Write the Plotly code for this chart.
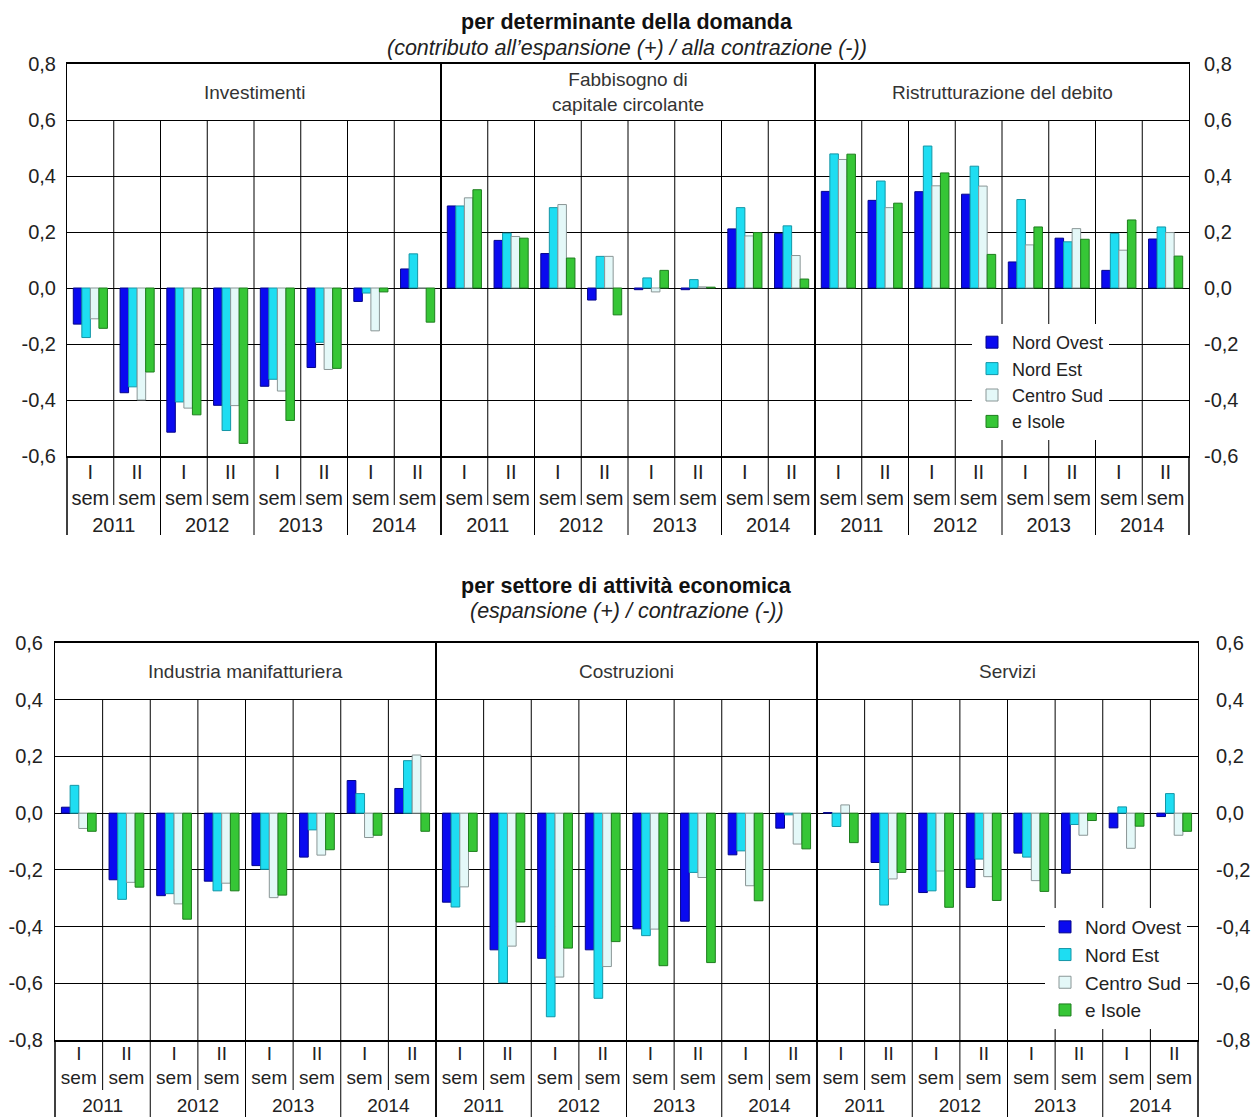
import plotly.graph_objects as go

# ---------------- data ----------------
years = ["2011", "2012", "2013", "2014"]
semesters = ["I<br>sem", "II<br>sem"]
regions = ["Nord Ovest", "Nord Est", "Centro Sud", "e Isole"]

top_title = "per determinante della domanda"
top_subtitle = "(contributo all’espansione (+) / alla contrazione (-))"
bottom_title = "per settore di attività economica"
bottom_subtitle = "(espansione (+) / contrazione (-))"

top_sections = ["Investimenti", "Fabbisogno di<br>capitale circolante", "Ristrutturazione del debito"]
bottom_sections = ["Industria manifatturiera", "Costruzioni", "Servizi"]

top_ytick_vals = [-0.6, -0.4, -0.2, 0.0, 0.2, 0.4, 0.6, 0.8]
top_ytick_text = ["-0,6", "-0,4", "-0,2", "0,0", "0,2", "0,4", "0,6", "0,8"]
bottom_ytick_vals = [-0.8, -0.6, -0.4, -0.2, 0.0, 0.2, 0.4, 0.6]
bottom_ytick_text = ["-0,8", "-0,6", "-0,4", "-0,2", "0,0", "0,2", "0,4", "0,6"]

# Investimenti
inv_nord_ovest = [-0.129, -0.374, -0.515, -0.419, -0.351, -0.284, -0.048, 0.068]
inv_nord_est = [-0.177, -0.353, -0.407, -0.509, -0.326, -0.194, -0.018, 0.122]
inv_centro_sud = [-0.110, -0.400, -0.429, -0.420, -0.368, -0.291, -0.153, 0.000]
inv_isole = [-0.144, -0.300, -0.453, -0.555, -0.473, -0.287, -0.014, -0.122]

# Fabbisogno di capitale circolante
fab_nord_ovest = [0.293, 0.170, 0.123, -0.043, -0.006, -0.006, 0.211, 0.195]
fab_nord_est = [0.293, 0.196, 0.287, 0.113, 0.036, 0.030, 0.287, 0.222]
fab_centro_sud = [0.322, 0.184, 0.298, 0.113, -0.014, 0.004, 0.186, 0.116]
fab_isole = [0.351, 0.178, 0.107, -0.096, 0.063, 0.003, 0.198, 0.032]

# Ristrutturazione del debito
ris_nord_ovest = [0.345, 0.313, 0.344, 0.335, 0.093, 0.178, 0.063, 0.175]
ris_nord_est = [0.479, 0.382, 0.507, 0.435, 0.316, 0.165, 0.195, 0.218]
ris_centro_sud = [0.459, 0.287, 0.365, 0.364, 0.154, 0.212, 0.135, 0.198]
ris_isole = [0.478, 0.303, 0.411, 0.120, 0.218, 0.174, 0.243, 0.114]

# Industria manifatturiera
ind_nord_ovest = [0.021, -0.235, -0.291, -0.240, -0.185, -0.155, 0.115, 0.087]
ind_nord_est = [0.098, -0.304, -0.284, -0.274, -0.198, -0.059, 0.069, 0.185]
ind_centro_sud = [-0.054, -0.244, -0.320, -0.247, -0.298, -0.148, -0.086, 0.205]
ind_isole = [-0.064, -0.261, -0.374, -0.274, -0.289, -0.129, -0.078, -0.064]

# Costruzioni
cos_nord_ovest = [-0.314, -0.482, -0.512, -0.482, -0.408, -0.381, -0.147, -0.053]
cos_nord_est = [-0.331, -0.598, -0.718, -0.653, -0.432, -0.209, -0.133, -0.006]
cos_centro_sud = [-0.260, -0.469, -0.578, -0.541, -0.409, -0.227, -0.256, -0.109]
cos_isole = [-0.135, -0.384, -0.476, -0.453, -0.538, -0.527, -0.309, -0.126]

# Servizi
ser_nord_ovest = [0.002, -0.174, -0.280, -0.262, -0.141, -0.212, -0.052, -0.012]
ser_nord_est = [-0.047, -0.324, -0.274, -0.162, -0.155, -0.040, 0.022, 0.069]
ser_centro_sud = [0.029, -0.232, -0.204, -0.224, -0.238, -0.078, -0.124, -0.078]
ser_isole = [-0.104, -0.209, -0.332, -0.308, -0.276, -0.026, -0.046, -0.064]

top_values = [
    [inv_nord_ovest, inv_nord_est, inv_centro_sud, inv_isole],
    [fab_nord_ovest, fab_nord_est, fab_centro_sud, fab_isole],
    [ris_nord_ovest, ris_nord_est, ris_centro_sud, ris_isole],
]
bottom_values = [
    [ind_nord_ovest, ind_nord_est, ind_centro_sud, ind_isole],
    [cos_nord_ovest, cos_nord_est, cos_centro_sud, cos_isole],
    [ser_nord_ovest, ser_nord_est, ser_centro_sud, ser_isole],
]

# ---------------- styling ----------------
W, H = 1253, 1117
FONT = "Liberation Sans, Arial, sans-serif"
TXT = "#222222"
fill_colors = ["#0A0AF0", "#1EDDF2", "#E4F8F8", "#36C636"]
edge_colors = ["#05058A", "#1496A6", "#8A9696", "#1E7E1E"]
YTICK_SIZE = 20


def px_x(p):
    return p / W


def px_y(p):
    return 1 - p / H


# panel geometry (pixels)
rows = [
    dict(left=67, right=1189, top=64, bottom=456, yr=[-0.6, 0.8], sections=top_sections,
         values=top_values, legend="legend", sem_end=505, year_end=535,
         tickvals=top_ytick_vals, ticktext=top_ytick_text,
         title=top_title, subtitle=top_subtitle, title_y=22, subtitle_y=48,
         stand_l=6, stand_r=10, xstand=-3, xsize=20),
    dict(left=55, right=1198, top=643, bottom=1040, yr=[-0.8, 0.6], sections=bottom_sections,
         values=bottom_values, legend="legend2", sem_end=1090, year_end=1125,
         tickvals=bottom_ytick_vals, ticktext=bottom_ytick_text,
         title=bottom_title, subtitle=bottom_subtitle, title_y=586, subtitle_y=611,
         stand_l=7, stand_r=13, xstand=-5, xsize=19),
]

xcat = [[y for y in years for s in semesters], [s for y in years for s in semesters]]

fig = go.Figure()
layout = dict(
    width=W, height=H,
    margin=dict(l=0, r=0, t=0, b=0, autoexpand=False),
    paper_bgcolor="white", plot_bgcolor="white",
    barmode="group", bargap=0.27, bargroupgap=0,
    separators=",.",
    font=dict(family=FONT, size=18, color=TXT),
    showlegend=True,
)
shapes = []
annotations = []

n = 0
for r_i, row in enumerate(rows):
    sec_w = (row["right"] - row["left"]) / 3
    ymin, ymax = row["yr"]
    for s_i, sec_name in enumerate(row["sections"]):
        n += 1
        xa = "x" if n == 1 else f"x{n}"
        ya = "y" if n == 1 else f"y{n}"
        x0 = row["left"] + s_i * sec_w
        x1 = x0 + sec_w
        for k, reg in enumerate(regions):
            fig.add_trace(go.Bar(
                x=xcat, y=row["values"][s_i][k], name=reg,
                marker=dict(color=fill_colors[k], line=dict(color=edge_colors[k], width=1)),
                xaxis=xa, yaxis=ya, legend=row["legend"],
                showlegend=(s_i == 0), hoverinfo="y+name",
            ))
        layout[f"xaxis{'' if n == 1 else n}"] = dict(
            type="multicategory", domain=[px_x(x0), px_x(x1)], anchor=ya,
            showline=True, mirror=True, linecolor="black", linewidth=1.5,
            showgrid=False, ticks="", showdividers=False, ticklabelstandoff=row["xstand"],
            tickfont=dict(size=row["xsize"], color=TXT, family=FONT), fixedrange=True,
        )
        yax = dict(
            domain=[px_y(row["bottom"]), px_y(row["top"])], anchor=xa,
            range=[ymin, ymax], tickmode="array",
            tickvals=row["tickvals"], ticktext=row["ticktext"],
            showgrid=True, gridcolor="black", gridwidth=1,
            zeroline=True, zerolinecolor="black", zerolinewidth=1,
            showline=True, mirror=True, linecolor="black", linewidth=1,
            ticks="", tickfont=dict(size=YTICK_SIZE, color=TXT, family=FONT),
            fixedrange=True,
        )
        if s_i == 0:
            yax.update(showticklabels=True, side="left", ticklabelstandoff=row["stand_l"])
        elif s_i == 2:
            yax.update(showticklabels=True, side="right", ticklabelstandoff=row["stand_r"])
        else:
            yax.update(showticklabels=False)
        layout[f"yaxis{'' if n == 1 else n}"] = yax

        # vertical category lines inside plot (below the header band)
        for c in range(1, 8):
            shapes.append(dict(type="line", xref=f"{xa} domain", yref=ya,
                               x0=c / 8, x1=c / 8, y0=ymin, y1=ymax - 0.2,
                               line=dict(color="black", width=1)))
        # separators in the label area
        for c in range(0, 9):
            end = row["year_end"] if c % 2 == 0 else row["sem_end"]
            shapes.append(dict(type="line", xref=f"{xa} domain", yref="paper",
                               x0=c / 8, x1=c / 8,
                               y0=px_y(row["bottom"]), y1=px_y(end),
                               line=dict(color="black", width=1.5 if c in (0, 8) else 1)))
        # section header
        annotations.append(dict(xref=f"{xa} domain", yref=ya, x=0.5, y=ymax - 0.1,
                                xanchor="center", yanchor="middle",
                                text=sec_name, showarrow=False,
                                font=dict(size=19, color="#333333", family=FONT)))
    # titles
    annotations.append(dict(xref="paper", yref="paper", x=0.5, y=px_y(row["title_y"]),
                            xanchor="center", yanchor="middle",
                            text=f"<b>{row['title']}</b>", showarrow=False,
                            font=dict(size=21.5, color="#111111", family=FONT)))
    annotations.append(dict(xref="paper", yref="paper", x=0.5, y=px_y(row["subtitle_y"]),
                            xanchor="center", yanchor="middle",
                            text=f"<i>{row['subtitle']}</i>", showarrow=False,
                            font=dict(size=21.5, color="#222222", family=FONT)))

layout["legend"] = dict(x=px_x(972), y=px_y(324), xanchor="left", yanchor="top",
                        bgcolor="white", borderwidth=0, traceorder="normal",
                        font=dict(size=18, color=TXT, family=FONT), tracegroupgap=0,
                        itemwidth=30)
layout["legend2"] = dict(x=px_x(1045), y=px_y(908), xanchor="left", yanchor="top",
                         bgcolor="white", borderwidth=0, traceorder="normal",
                         font=dict(size=19, color=TXT, family=FONT), tracegroupgap=0,
                         itemwidth=30)
layout["shapes"] = shapes
layout["annotations"] = annotations
fig.update_layout(**layout)

fig.write_html("out.html",
               config={"displayModeBar": False},
               post_script="document.body.style.margin='0px';document.body.style.overflow='hidden';")
